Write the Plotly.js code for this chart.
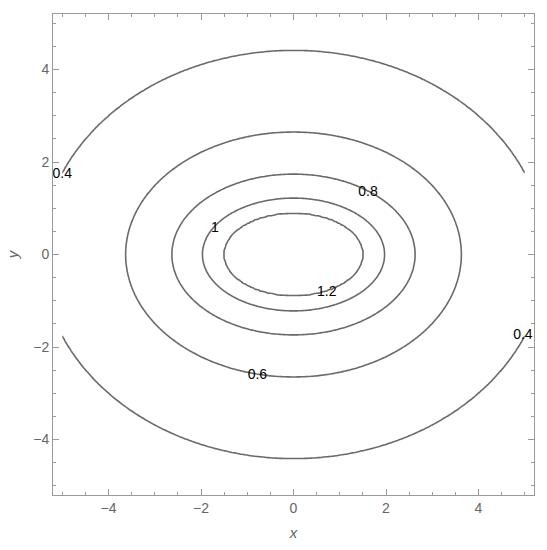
<!DOCTYPE html>
<html>
<head>
<meta charset="utf-8">
<script src="https://cdn.plot.ly/plotly-3.0.1.min.js"></script>
<style>html,body{margin:0;padding:0;background:#fff;}#chart{width:547px;height:550px;}</style>
</head>
<body>
<div id="chart"></div>
<script>
// Contour levels (outer to inner) and the semi-axes of each closed contour
const levels = [0.4, 0.6, 0.8, 1.0, 1.2];
const semiX  = [5.45, 3.63, 2.63, 1.97, 1.51];
const semiY  = [4.41, 2.65, 1.74, 1.22, 0.90];

// Contour label text and positions
const labelText = ['0.4', '0.4', '0.6', '0.8', '1', '1.2'];
const labelX    = [-5.0, 4.96, -0.78, 1.61, -1.70, 0.72];
const labelY    = [1.72, -1.76, -2.61, 1.33, 0.57, -0.83];

// Tick values
const tickVals = [-4, -2, 0, 2, 4];
const tickText = ['\u22124', '\u22122', '0', '2', '4'];

// Build grid on the plotted domain [-5, 5]
const N = 241;
const gx = [], gy = [];
for (let i = 0; i < N; i++) { gx.push(-5 + 10 * i / (N - 1)); gy.push(-5 + 10 * i / (N - 1)); }
const z = [];
for (let j = 0; j < N; j++) {
  const row = [];
  for (let i = 0; i < N; i++) {
    const x = gx[i], y = gy[j];
    const r = levels.map((L, k) => Math.sqrt(x * x / (semiX[k] * semiX[k]) + y * y / (semiY[k] * semiY[k])));
    let v;
    const n = levels.length;
    if (r[0] >= 1) {
      v = levels[0] - (r[0] - 1) * 0.2;
    } else if (r[n - 1] <= 1) {
      v = levels[n - 1] + (1 - r[n - 1]) * 0.2;
    } else {
      for (let k = 0; k < n - 1; k++) {
        if (r[k] <= 1 && r[k + 1] >= 1) {
          const t = (1 - r[k]) / (r[k + 1] - r[k]);
          v = levels[k] + (levels[k + 1] - levels[k]) * t;
          break;
        }
      }
    }
    row.push(v);
  }
  z.push(row);
}

const contour = {
  type: 'contour', x: gx, y: gy, z: z,
  autocontour: false,
  contours: { start: levels[0], end: levels[levels.length - 1], size: 0.2, coloring: 'none', showlabels: false },
  line: { color: '#6a6a6a', width: 1.6, smoothing: 1 },
  showscale: false, hoverinfo: 'skip'
};

const labels = {
  type: 'scatter', mode: 'text', x: labelX, y: labelY, text: labelText,
  textfont: { family: 'Liberation Sans, Arial, sans-serif', size: 14, color: '#000' },
  hoverinfo: 'skip', showlegend: false
};

const axisCommon = {
  range: [-5.2, 5.2], showgrid: false, zeroline: false,
  showline: true, linecolor: '#9a9a9a', linewidth: 1, mirror: 'ticks',
  ticks: 'inside', ticklen: 6, tickwidth: 1, tickcolor: '#9a9a9a',
  tickvals: tickVals, ticktext: tickText,
  tickfont: { family: 'Liberation Sans, Arial, sans-serif', size: 14, color: '#666' },
  minor: { dtick: 0.5, tick0: 0, ticks: 'inside', ticklen: 3, tickcolor: '#9a9a9a', showgrid: false }
};

const layout = {
  width: 547, height: 550,
  margin: { l: 53, r: 13, t: 14, b: 55 },
  paper_bgcolor: '#fff', plot_bgcolor: '#fff',
  showlegend: false,
  xaxis: Object.assign({}, axisCommon, {
    title: { text: '<i>x</i>', font: { family: 'Liberation Sans, Arial, sans-serif', size: 15, color: '#666' }, standoff: 12 }
  }),
  yaxis: Object.assign({}, axisCommon, {
    title: { text: '<i>y</i>', font: { family: 'Liberation Sans, Arial, sans-serif', size: 15, color: '#666' }, standoff: 10 }
  })
};

Plotly.newPlot('chart', [contour, labels], layout, { displayModeBar: false, staticPlot: true });
</script>
</body>
</html>
